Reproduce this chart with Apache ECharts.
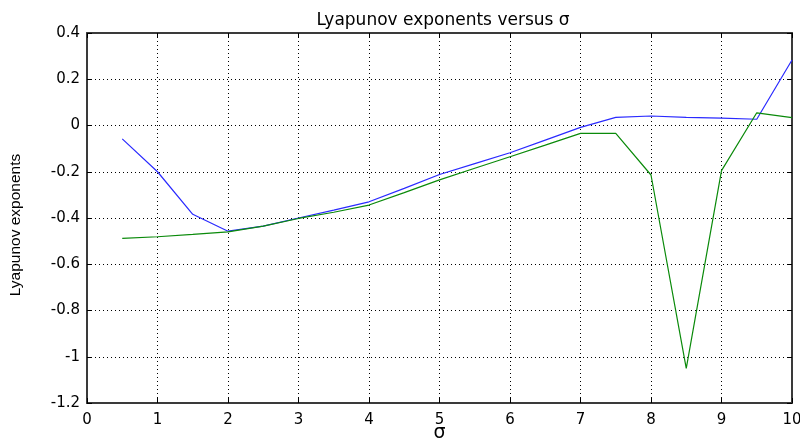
<!DOCTYPE html>
<html>
<head>
<meta charset="utf-8">
<script src="https://cdn.jsdelivr.net/npm/echarts@6/dist/echarts.min.js"></script>
<style>
  html, body { margin: 0; padding: 0; background: #fff; }
  #chart { width: 800px; height: 442px; }
</style>
</head>
<body>
<div id="chart"></div>
<script>
// Lyapunov exponents sampled at sigma = 0.5, 1.0, ..., 10
const sigma = [0.5, 1, 1.5, 2, 2.5, 3, 3.5, 4, 4.5, 5, 5.5, 6, 6.5, 7, 7.5, 8, 8.5, 9, 9.5, 10];
const lambda1 = [-0.058, -0.20, -0.384, -0.457, -0.435, -0.400, -0.366, -0.330, -0.272, -0.212, -0.165, -0.118, -0.063, -0.008, 0.035, 0.041, 0.035, 0.032, 0.027, 0.283];
const lambda2 = [-0.488, -0.481, -0.471, -0.460, -0.435, -0.402, -0.375, -0.344, -0.290, -0.235, -0.185, -0.135, -0.085, -0.034, -0.034, -0.214, -1.05, -0.195, 0.055, 0.034];

const xTicks = { min: 0, max: 10, interval: 1 };
const yTicks = { min: -1.2, max: 0.4, interval: 0.2 };

const font = 'DejaVu Sans, Arial, sans-serif';
const narrowFont = 'Liberation Sans, Arial, sans-serif';
const pairs = (ys) => sigma.map((s, i) => [s, ys[i]]);

const chart = echarts.init(document.getElementById('chart'));
const frameAxis = {
  axisLine: { show: true, onZero: false, lineStyle: { color: '#3a3a3a', width: 2 } },
  axisTick: { show: true, inside: true, length: 5, lineStyle: { color: '#000' } }
};
chart.setOption({
  animation: false,
  backgroundColor: '#fff',
  title: {
    text: 'Lyapunov exponents versus σ',
    left: 438, top: 7, textAlign: 'center',
    textStyle: { fontFamily: font, fontSize: 17, fontWeight: 'normal', color: '#000' }
  },
  grid: { left: 87, top: 33, right: 8, bottom: 39, containLabel: false, outerBoundsMode: 'none' },
  xAxis: [
    Object.assign({
      type: 'value', min: xTicks.min, max: xTicks.max, interval: xTicks.interval,
      position: 'bottom',
      name: 'σ', nameLocation: 'middle', nameGap: 30, nameMoveOverlap: false,
      nameTextStyle: { fontFamily: font, fontSize: 19, color: '#000', verticalAlign: 'middle' },
      axisLabel: { fontFamily: font, fontSize: 15, color: '#000', margin: 10 },
      splitLine: { show: true, lineStyle: { color: '#000', type: [1, 3], width: 1 } }
    }, frameAxis),
    Object.assign({
      type: 'value', min: xTicks.min, max: xTicks.max, interval: xTicks.interval,
      position: 'top', axisLabel: { show: false }, splitLine: { show: false }
    }, frameAxis)
  ],
  yAxis: [
    Object.assign({
      type: 'value', min: yTicks.min, max: yTicks.max, interval: yTicks.interval,
      position: 'left',
      name: 'Lyapunov exponents', nameLocation: 'middle', nameGap: 63, nameRotate: 90, nameMoveOverlap: false,
      nameTextStyle: { fontFamily: narrowFont, fontSize: 15.5, color: '#000', padding: [0, 14, 0, 0] },
      axisLabel: { fontFamily: font, fontSize: 15, color: '#000', margin: 7 },
      splitLine: { show: true, lineStyle: { color: '#000', type: [1, 3], width: 1 } }
    }, frameAxis),
    Object.assign({
      type: 'value', min: yTicks.min, max: yTicks.max, interval: yTicks.interval,
      position: 'right', axisLabel: { show: false }, splitLine: { show: false }
    }, frameAxis)
  ],
  series: [
    {
      type: 'line', data: pairs(lambda1), showSymbol: false, symbol: 'none',
      lineStyle: { color: '#2a2aff', width: 1.2 }, z: 3
    },
    {
      type: 'line', data: pairs(lambda2), showSymbol: false, symbol: 'none',
      lineStyle: { color: '#0a8a0a', width: 1.2 }, z: 4
    }
  ]
});
</script>
</body>
</html>
